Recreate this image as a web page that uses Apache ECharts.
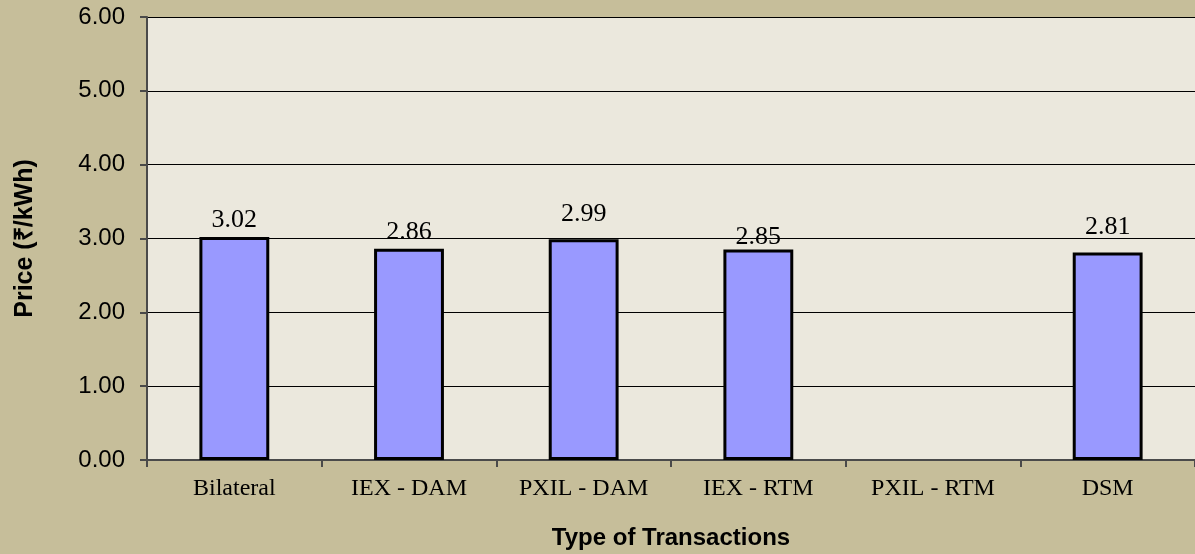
<!DOCTYPE html>
<html><head><meta charset="utf-8">
<script src="https://cdn.jsdelivr.net/npm/echarts@6/dist/echarts.min.js"></script>
<style>html,body{margin:0;padding:0;background:#C6BE9A;}#c{width:1195px;height:554px;}</style>
</head><body><div id="c"></div>
<script>
const categories = ['Bilateral', 'IEX - DAM', 'PXIL - DAM', 'IEX - RTM', 'PXIL - RTM', 'DSM'];
const prices = [3.02, 2.86, 2.99, 2.85, null, 2.81];
const yTicks = [0, 1, 2, 3, 4, 5, 6];
const labelShift = [0, 0, -8, 5, 0, -8];

const chart = echarts.init(document.getElementById('c'));
chart.setOption({
  backgroundColor: '#C6BE9A',
  animation: false,
  grid: { left: 147, right: 0, top: 17, bottom: 94, show: true, backgroundColor: '#EBE8DD', borderWidth: 0,
          containLabel: false, outerBoundsMode: 'none' },
  xAxis: {
    type: 'category', data: categories,
    axisLine: { lineStyle: { color: '#4a4a4a', width: 2 } },
    axisTick: { show: true, length: 7, inside: false, alignWithLabel: false, lineStyle: { color: '#4a4a4a', width: 2 } },
    axisLabel: { color: '#000', fontFamily: 'Liberation Serif', fontSize: 24, margin: 17 },
    name: 'Type of Transactions', nameLocation: 'middle', nameGap: 66,
    nameTextStyle: { color: '#000', fontFamily: 'Liberation Sans', fontWeight: 'bold', fontSize: 24 }
  },
  yAxis: {
    type: 'value', min: yTicks[0], max: yTicks[yTicks.length - 1], interval: 1,
    axisLine: { show: true, lineStyle: { color: '#4a4a4a', width: 2 } },
    axisTick: { show: true, length: 7, lineStyle: { color: '#4a4a4a', width: 2 } },
    axisLabel: { color: '#000', fontFamily: 'Liberation Sans', fontSize: 24, margin: 22, formatter: v => v.toFixed(2) },
    splitLine: { show: true, lineStyle: { color: '#000', width: 1 } },
    name: 'Price (₹/kWh)', nameLocation: 'middle', nameGap: 109, nameRotate: 90,
    nameTextStyle: { color: '#000', fontFamily: 'Liberation Sans', fontWeight: 'bold', fontSize: 25 }
  },
  series: [{
    type: 'bar', barWidth: '40%',
    data: prices.map((v, i) => ({
      value: v,
      label: { offset: [0, labelShift[i]] }
    })),
    itemStyle: { color: '#9999FF', borderColor: '#000', borderWidth: 3 },
    label: { show: true, position: 'top', distance: 4, color: '#000', fontFamily: 'Liberation Serif', fontSize: 26, formatter: p => p.value == null ? '' : p.value.toFixed(2) }
  }]
});
</script></body></html>
